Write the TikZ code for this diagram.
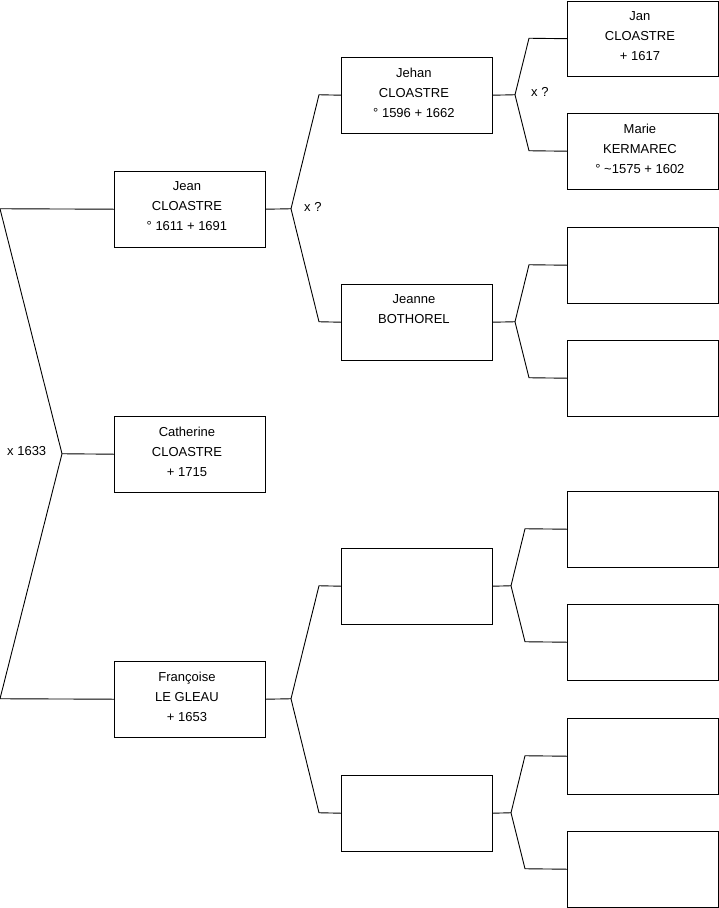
\documentclass[tikz,border=0pt]{standalone}
\usepackage{fontspec}
\setmainfont{Liberation Sans}
\begin{document}
\begin{tikzpicture}[x=1pt,y=-1pt,
  person/.style={draw, line width=0.9pt, minimum width=151pt, minimum height=75.5pt, anchor=north west, inner sep=0pt},
  ptext/.style={anchor=north, align=center, inner sep=0pt, font=\fontsize{13}{20}\selectfont},
  link/.style={line width=0.9pt},
  lbl/.style={anchor=west, inner sep=0pt, font=\fontsize{13}{16}\selectfont}]
\useasboundingbox (0,0) rectangle (719,908);

% column 1
\node[person] (jean) at (114,171) {};
\node[person] (catherine) at (114,416) {};
\node[person] (francoise) at (114,661) {};
% column 2
\node[person] (jehan) at (341,57) {};
\node[person] (jeanne) at (341,284) {};
\node[person] (b1) at (341,548) {};
\node[person] (b2) at (341,775) {};
% column 3
\node[person] (jan) at (567,0.5) {};
\node[person] (marie) at (567,113) {};
\node[person] (c3) at (567,227) {};
\node[person] (c4) at (567,340) {};
\node[person] (c5) at (567,491) {};
\node[person] (c6) at (567,604) {};
\node[person] (c7) at (567,718) {};
\node[person] (c8) at (567,831) {};

% texts
\node[ptext] (jean-t) at ([xshift=-3pt,yshift=-10.5pt]jean.north) {Jean\\CLOASTRE\\° 1611 + 1691};
\node[ptext] (catherine-t) at ([xshift=-3pt,yshift=-10.5pt]catherine.north) {Catherine\\CLOASTRE\\+ 1715};
\node[ptext] (francoise-t) at ([xshift=-3pt,yshift=-10.5pt]francoise.north) {Françoise\\LE GLEAU\\+ 1653};
\node[ptext] (jehan-t) at ([xshift=-3pt,yshift=-10.5pt]jehan.north) {Jehan\\CLOASTRE\\° 1596 + 1662};
\node[ptext] (jeanne-t) at ([xshift=-3pt,yshift=-10.5pt]jeanne.north) {Jeanne\\BOTHOREL};
\node[ptext] (jan-t) at ([xshift=-3pt,yshift=-10.5pt]jan.north) {Jan\\CLOASTRE\\+ 1617};
\node[ptext] (marie-t) at ([xshift=-3pt,yshift=-10.5pt]marie.north) {Marie\\KERMAREC\\° \textasciitilde1575 + 1602};

% connectors
\coordinate (l1) at (0,208.75);
\coordinate (l2) at (0,698.75);
\coordinate (m) at (62,453.75);
\draw[link] (jean.west) -- (l1) -- (m) -- (l2) -- (francoise.west);
\draw[link] (m) -- (catherine.west);

\coordinate (f1) at (291,208.75);
\draw[link] (jean.east) -- (f1) -- (319,94.75) -- (jehan.west);
\draw[link] (f1) -- (319,321.75) -- (jeanne.west);

\coordinate (f2) at (291,698.75);
\draw[link] (francoise.east) -- (f2) -- (319,585.75) -- (b1.west);
\draw[link] (f2) -- (319,812.75) -- (b2.west);

\coordinate (g1) at (515,94.75);
\draw[link] (jehan.east) -- (g1) -- (529,38.25) -- (jan.west);
\draw[link] (g1) -- (529,150.75) -- (marie.west);

\coordinate (g2) at (515,321.75);
\draw[link] (jeanne.east) -- (g2) -- (529,264.75) -- (c3.west);
\draw[link] (g2) -- (529,377.75) -- (c4.west);

\coordinate (g3) at (511,585.75);
\draw[link] (b1.east) -- (g3) -- (525,528.75) -- (c5.west);
\draw[link] (g3) -- (525,641.75) -- (c6.west);

\coordinate (g4) at (511,812.75);
\draw[link] (b2.east) -- (g4) -- (525,755.75) -- (c7.west);
\draw[link] (g4) -- (525,868.75) -- (c8.west);

% marriage labels
\node[lbl] (x1633) at (7,451) {x 1633};
\node[lbl] (xq1) at (304,207) {x ?};
\node[lbl] (xq2) at (531,92) {x ?};
\end{tikzpicture}
\end{document}
